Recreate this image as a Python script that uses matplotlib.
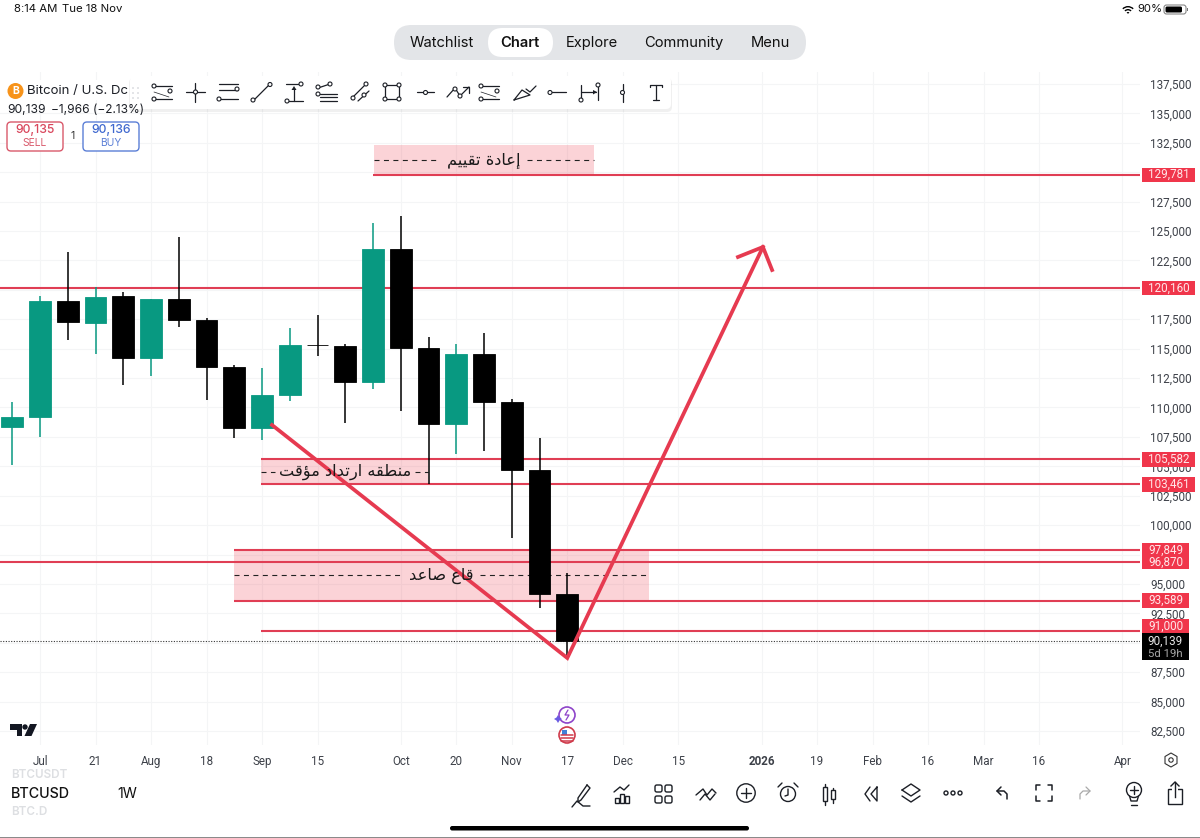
#!/usr/bin/env python3
# BTCUSD weekly chart screenshot, rebuilt with matplotlib
import matplotlib
matplotlib.use('Agg')
import matplotlib.pyplot as plt
from matplotlib.patches import Rectangle, FancyBboxPatch, Circle, Polygon, Wedge

plt.rcParams['font.family'] = ['Inter', 'DejaVu Sans']

# weekly candles
opens = [108340, 109190, 119050, 117180, 119475, 114205, 119220, 117435, 113440, 108255, 111060,
         115310, 115225, 112165, 123470, 115055, 108595, 114545, 110465, 104685, 94145]
closes = [109190, 119050, 117265, 119390, 114205, 119220, 117435, 113440, 108255, 111060, 115310,
          115290, 112165, 123470, 115055, 108595, 114545, 110465, 104685, 94145, 90139]
highs = [110465, 119475, 123215, 120240, 119815, 119220, 124490, 117605, 113610, 113355, 116755,
         117860, 115395, 125680, 126275, 115990, 115395, 116330, 110720, 107405, 95930]
lows = [105110, 107490, 115735, 114545, 111910, 112675, 116840, 110635, 107405, 107235, 110550,
        114375, 108680, 111570, 109700, 103495, 106045, 106300, 98905, 92955, 88790]

x_ticks = [1, 3, 5, 7, 9, 11, 14, 16, 18, 20, 22, 24, 27, 29, 31, 33, 35, 37, 40]
x_labels = ['Jul', '21', 'Aug', '18', 'Sep', '15', 'Oct', '20', 'Nov', '17', 'Dec', '15',
            '2026', '19', 'Feb', '16', 'Mar', '16', 'Apr']
y_ticks = list(range(82500, 137501, 2500))
y_hidden = [130000, 120000, 97500, 90000]  # sit right under a price label

# drawn levels: price, first week of the line, price shown on the label
levels = [129781, 120160, 105582, 103461, 97849, 96870, 93589, 91000]
level_start = [12.99, -1, 8.97, 8.97, 7.99, -1, 7.99, 8.97]
label_at = [129781, 120160, 105582, 103461, 97849, 96870, 93589, 91425]
label_wide = [True, True, True, True, False, False, False, False]
last_price = 90139

# shaded zones
zone_left = [13.03, 8.97, 7.99]
zone_right = [20.96, 14.98, 22.95]
zone_top = [132310, 105582, 97849]
zone_bottom = [129781, 103461, 93589]
gap_left = [15.41, 9.47, 14.04]
gap_right = [18.55, 14.51, 16.85]
zone_text = ['إعادة تقييم', 'منطقه ارتداد مؤقت', 'قاع صاعد']

# hand drawn arrow
path_x = [9.36, 20.0, 27.05]
path_y = [108510, 88705, 123640]
head_x = [26.15, 27.05, 27.38]
head_y = [122790, 123640, 121685]

GREEN = '#089981'
RED = '#e03e54'
LABEL_RED = '#f0364b'
GRID = '#f4f5f6'
SCALE_FONT = 'Roboto'

# matplotlib has no arabic shaping, so pick the joined glyph forms here
FORMS = {'ا': (0xFE8D, 0xFE8E), 'إ': (0xFE87, 0xFE88), 'د': (0xFEA9, 0xFEAA), 'ر': (0xFEAD, 0xFEAE),
         'ؤ': (0xFE85, 0xFE86), 'ة': (0xFE93, 0xFE94),
         'ت': (0xFE95, 0xFE96, 0xFE97, 0xFE98), 'ق': (0xFED5, 0xFED6, 0xFED7, 0xFED8),
         'ي': (0xFEF1, 0xFEF2, 0xFEF3, 0xFEF4), 'م': (0xFEE1, 0xFEE2, 0xFEE3, 0xFEE4),
         'ن': (0xFEE5, 0xFEE6, 0xFEE7, 0xFEE8), 'ط': (0xFEC1, 0xFEC2, 0xFEC3, 0xFEC4),
         'ه': (0xFEE9, 0xFEEA, 0xFEEB, 0xFEEC), 'ع': (0xFEC9, 0xFECA, 0xFECB, 0xFECC),
         'ص': (0xFEB9, 0xFEBA, 0xFEBB, 0xFEBC)}


def shape(text):
    out = []
    for i, c in enumerate(text):
        if c == ' ':
            out.append(c)
            continue
        prev = text[i - 1] if i > 0 else ' '
        nxt = text[i + 1] if i + 1 < len(text) else ' '
        join_prev = prev != ' ' and len(FORMS[prev]) == 4
        join_next = nxt != ' ' and len(FORMS[c]) == 4
        f = FORMS[c]
        if join_prev and join_next:
            g = f[3]
        elif join_prev:
            g = f[1]
        elif join_next:
            g = f[2]
        else:
            g = f[0]
        out.append(chr(g))
    return ''.join(out[::-1])


fig = plt.figure(figsize=(12, 8.38), dpi=100)

# chart axes, 1140 px wide, from y=72 to y=745 px
ax = fig.add_axes([0, (838 - 745) / 838, 1140 / 1200, (745 - 72) / 838])
ax.set_xlim((0 - 12.3) / 27.75, (1140 - 12.3) / 27.75)
ax.set_ylim(82500 + (731 - 745) * 85, 82500 + (731 - 72) * 85)
for s in ax.spines.values():
    s.set_visible(False)
ax.set_axisbelow(True)
ax.grid(True, color=GRID, lw=0.8)
ax.set_xticks(x_ticks)
ax.set_xticklabels(x_labels)
ax.set_yticks(y_ticks)
ax.set_yticklabels(['' if v in y_hidden else f'{v:,}' for v in y_ticks])
ax.yaxis.tick_right()
ax.tick_params(axis='both', length=0, labelsize=8.4, labelcolor='#3d4149', labelfontfamily=SCALE_FONT)
ax.tick_params(axis='x', pad=7.4)
ax.tick_params(axis='y', pad=7.2)
ax.get_xticklabels()[x_labels.index('2026')].set_fontweight('bold')

# zones
for i in range(3):
    ax.add_patch(Rectangle((zone_left[i], zone_bottom[i]), zone_right[i] - zone_left[i],
                           zone_top[i] - zone_bottom[i], fc='#ee3a4c', alpha=0.22, lw=0, zorder=1))
    mid = (zone_top[i] + zone_bottom[i]) / 2
    for a, b in [(zone_left[i], gap_left[i]), (gap_right[i], zone_right[i])]:
        ax.plot([a, b], [mid, mid], color='#222222', lw=0.8, dashes=(4.5, 4), zorder=2)
    ax.text((gap_left[i] + gap_right[i]) / 2, mid, shape(zone_text[i]), family='DejaVu Sans',
            fontsize=11.7, color='#1a1a1a', ha='center', va='center', zorder=6)

# levels
xmax = ax.get_xlim()[1]
for v, start in zip(levels, level_start):
    ax.plot([start, xmax], [v, v], color=RED, lw=1.5, zorder=2, solid_capstyle='butt')
ax.axhline(last_price, color='#333333', lw=0.8, dashes=(1, 1.4), zorder=2)

# candles
for i in range(len(opens)):
    color = GREEN if closes[i] >= opens[i] else 'black'
    ax.vlines(i, lows[i], highs[i], color=color, lw=1.1, zorder=3)
    body = max(abs(closes[i] - opens[i]), 20)
    ax.bar(i, body, bottom=min(opens[i], closes[i]), width=0.78, color=color,
           edgecolor=color, lw=0.6, zorder=4)

# arrow
ax.plot(path_x, path_y, color='#e63a50', lw=2.7, zorder=5, solid_joinstyle='miter')
ax.plot(head_x, head_y, color='#e63a50', lw=2.7, zorder=5, solid_joinstyle='miter')

# price labels on the scale
ytr = ax.get_yaxis_transform()
for v, at, wide in zip(levels, label_at, label_wide):
    w = (53 if wide else 47) / 1140
    ax.add_patch(Rectangle((1142 / 1140, at - 610), w, 1220, fc=LABEL_RED, lw=0,
                           transform=ytr, clip_on=False, zorder=7))
    ax.text(1142 / 1140 + w / 2, at, f'{v:,}', color='#ffe6e8', fontsize=8.4, ha='center',
            va='center', transform=ytr, clip_on=False, zorder=8, family=SCALE_FONT)
ax.add_patch(Rectangle((1142 / 1140, 88535), 47 / 1140, 2295, fc='black', lw=0,
                       transform=ytr, clip_on=False, zorder=7))
ax.text(1165.5 / 1140, 90139, f'{last_price:,}', color='#e8e8e8', fontsize=8.4, ha='center',
        va='center', transform=ytr, clip_on=False, zorder=8, family=SCALE_FONT)
ax.text(1165.5 / 1140, 89080, '5d 19h', color='#a8a8a8', fontsize=8.2, ha='center',
        va='center', transform=ytr, clip_on=False, zorder=8, family=SCALE_FONT)

# screen furniture on a pixel overlay
ui = fig.add_axes([0, 0, 1, 1], zorder=10)
ui.set_xlim(0, 1200)
ui.set_ylim(838, 0)
ui.axis('off')
ui.patch.set_alpha(0)


def ln(xs, ys, c='#1c1f26', lw=0.9):
    ui.plot(xs, ys, color=c, lw=lw, solid_capstyle='round', solid_joinstyle='round')


def dot(x, y, r=2.0, c='#1c1f26', fc='white', lw=0.8):
    ui.add_patch(Circle((x, y), r, fc=fc, ec=c, lw=lw, zorder=4))


def box(x0, y0, x1, y1, r, **kw):
    ui.add_patch(FancyBboxPatch((x0 + r, y0 + r), x1 - x0 - 2 * r, y1 - y0 - 2 * r,
                                boxstyle=f'round,pad={r},rounding_size={r}', **kw))


def label(x, y, s, size=10.5, c='#111111', ha='left', **kw):
    ui.text(x, y, s, fontsize=size, color=c, ha=ha, va='center', **kw)


# status bar
label(14, 9, '8:14 AM', 8.2)
label(62, 9, 'Tue 18 Nov', 8.2)
label(1137, 9, '90%', 8.2)
for r in (2, 5, 8):
    ui.add_patch(Wedge((1128, 14), r, 225, 315, width=1.4, fc='black', lw=0))
box(1164, 5, 1186, 14, 2.5, fc='none', ec='#777777', lw=0.7)
box(1165.5, 6.5, 1182, 12.5, 1.5, fc='black', lw=0)
ui.add_patch(Rectangle((1186.5, 8), 1.4, 3.5, fc='#777777', lw=0))

# top tabs
box(394, 25, 806, 60, 17.5, fc='#e3e5e8', lw=0)
box(488, 28, 553, 57, 14.5, fc='white', lw=0)
for x, s, w in [(442, 'Watchlist', 'normal'), (520, 'Chart', 'bold'), (592, 'Explore', 'normal'),
                (684, 'Community', 'normal'), (770, 'Menu', 'normal')]:
    label(x, 43, s, 10.6, '#111111', ha='center', fontweight='semibold' if w == 'bold' else 'normal')

# symbol header
ui.add_patch(Rectangle((0, 80), 130, 20, fc='white', lw=0))
ui.add_patch(Circle((15.5, 91), 8, fc='#f7931a', lw=0))
label(15.5, 91, 'B', 7.5, 'white', ha='center', fontweight='bold')
label(27, 91, 'Bitcoin / U.S. Dc', 9.5, '#1c1f26')
label(7, 110, '90,139', 8.7, '#1c1f26')
label(51, 110, '−1,966 (−2.13%)', 8.6, '#1c1f26')
box(7, 122, 63, 151, 4, fc='white', ec='#d9596b', lw=1)
box(83, 122, 139, 151, 4, fc='white', ec='#5b7fd6', lw=1)
label(35, 130, '90,135', 8.8, '#d9465c', ha='center', fontweight='medium')
label(35, 143, 'SELL', 7.4, '#d9596b', ha='center')
label(111, 130, '90,136', 8.8, '#3f68cf', ha='center', fontweight='medium')
label(111, 143, 'BUY', 7.4, '#5b7fd6', ha='center')
label(73, 136, '1', 7.6, '#333333', ha='center')

# drawing toolbar
box(129, 78, 672, 112, 5, fc='#000000', alpha=0.06, lw=0)
box(130, 76, 671, 109, 5, fc='white', lw=0)
for x in (133, 138):
    for y in (88, 93, 98):
        ui.add_patch(Circle((x, y), 0.9, fc='#d5d7db', lw=0))
for x in (154, 481):  # same fib style icon twice
    ln([x, x + 18], [86, 86])
    ln([x, x + 18], [99, 99])
    ln([x, x + 15], [92, 97], lw=0.5)
    dot(x, 86); dot(x + 16, 91); dot(x, 99)
ln([186, 205], [92, 92]); ln([195, 195], [83, 102]); dot(195.5, 92)
ln([219, 238], [84, 84]); ln([219, 238], [90, 90]); ln([219, 238], [99, 99]); dot(237, 89); dot(219, 99)
ln([254, 269], [100, 85]); dot(253, 100); dot(270, 84.5)
ln([286, 300], [84, 84]); ln([288, 303], [101, 101]); ln([294, 294], [88, 101]); dot(301, 84); dot(287, 101)
ui.add_patch(Polygon([[291.5, 90], [296.5, 90], [294, 86]], fc='#1c1f26', lw=0))
ln([318, 330], [88, 84]); dot(318, 87); dot(318, 94); dot(330, 84)
for y in (94, 97.5, 101):
    ln([320, 337], [y, y])
ln([353, 366], [97, 84]); ln([358, 369], [101, 91]); dot(353, 98); dot(366, 84); dot(364, 95)
ui.add_patch(Rectangle((385, 85), 14, 14, fc='none', ec='#1c1f26', lw=0.9))
for p in [(385, 85), (399, 85), (385, 99), (399, 99)]:
    dot(*p)
ln([417, 434], [92.5, 92.5]); dot(425.5, 92.5)
ln([447, 455, 460, 469], [97, 88, 96, 87]); ln([463, 469, 469], [87, 87, 93]); dot(455, 89); dot(460, 96)
ln([514, 522, 530, 514, 514], [100, 90, 95, 100, 100]); ln([526, 530, 536], [89, 92, 86])
ln([552, 566], [92.5, 92.5]); dot(550, 92.5)
ln([581, 581], [85, 100]); ln([581, 596], [92, 92]); ln([598, 598], [85, 100]); dot(581, 100); dot(598, 85)
ui.add_patch(Polygon([[593, 90], [593, 94.5], [597, 92]], fc='#1c1f26', lw=0))
ln([622.5, 622.5], [84, 102]); dot(622.5, 92.5)
ln([650, 650, 662, 662], [87, 85, 85, 87]); ln([656, 656], [85, 100]); ln([653, 659], [100, 100])

# tradingview logo
ui.add_patch(Polygon([[10, 724], [22, 724], [22, 736], [17, 736], [17, 729.5], [10, 729.5]], fc='#131722', lw=0))
ui.add_patch(Circle((25, 727), 2.7, fc='#131722', lw=0))
ui.add_patch(Polygon([[30, 724], [37, 724], [31.5, 736], [24.5, 736]], fc='#131722', lw=0))

# event badges under the last candle
ui.add_patch(Circle((567, 715), 8, fc='white', ec='#8e44c9', lw=1.2))
ln([568, 565, 569, 566], [710, 715, 715, 720], c='#8e44c9', lw=0.9)
ui.add_patch(Polygon([[558, 715], [556.5, 717.5], [554, 719], [556.5, 720.5], [558, 723], [559.5, 720.5], [562, 719], [559.5, 717.5]],
                     fc='#6a5be2', lw=0))
ui.add_patch(Circle((567, 735), 8, fc='white', ec='#cf3b4b', lw=1.2))
for y in (735, 738, 741):
    ln([561, 573], [y, y], c='#cf3b4b', lw=1.1)
ui.add_patch(Rectangle((562, 730), 5, 4.5, fc='#3f7fd6', lw=0))

# settings hexagon next to the time scale
ui.add_patch(Polygon([[1171, 753], [1177, 756.5], [1177, 763.5], [1171, 767], [1165, 763.5], [1165, 756.5]],
                     fc='white', ec='#333333', lw=0.8))
dot(1171, 760, 2.2, '#333333')

# bottom bar
label(11, 775, 'BTCUSDT', 8.4, '#dddfe2', fontweight='semibold')
label(11, 794, 'BTCUSD', 10.3, '#111111', fontweight='medium')
label(11, 812, 'BTC.D', 8.4, '#dddfe2', fontweight='semibold')
label(117, 794, '1W', 10.3, '#111111')

# pen
ln([587, 590, 581, 578, 578, 587], [785, 788, 800, 802, 798, 785], lw=1)
ln([572, 577, 583, 590], [807, 801, 806, 806], lw=1)
# indicators
ln([614, 620, 624, 629], [792, 787, 790, 785], lw=1)
for x, h in [(615, 5), (620, 9), (625, 7)]:
    ui.add_patch(Rectangle((x, 803 - h), 4, h, fc='none', ec='#1c1f26', lw=1))
# layouts
for x in (655, 665):
    for y in (785, 796):
        box(x, y, x + 7, y + 7, 1.8, fc='none', ec='#1c1f26', lw=1)
# trend icon
ln([696, 703, 707, 712, 716], [795, 789, 795, 789, 793], lw=1)
ln([700, 705, 710, 715], [800, 794, 800, 794], lw=1)
# plus
ui.add_patch(Circle((746, 793), 9.2, fc='none', ec='#1c1f26', lw=1))
ln([741, 751], [793, 793], lw=1); ln([746, 746], [788, 798], lw=1)
# alarm
ui.add_patch(Circle((788, 794), 7.5, fc='none', ec='#1c1f26', lw=1))
ln([788, 788, 785], [789, 795, 796], lw=1); ln([778, 782], [787, 783], lw=1); ln([794, 798], [783, 787], lw=1)
# candles
for x, y0, y1, y2, y3 in [(825, 784, 787, 801, 805), (833, 788, 790, 799, 803)]:
    ln([x, x], [y0, y3], lw=1)
    ui.add_patch(Rectangle((x - 2, y1), 4, y2 - y1, fc='white', ec='#1c1f26', lw=1, zorder=4))
# rewind
ln([870, 865, 870], [787, 794, 801], lw=1)
ln([877, 871, 877, 877], [787, 794, 801, 787], lw=1)
# layers
ln([902, 911, 920, 911, 902], [790, 784, 790, 796, 790], lw=1)
ln([902, 911, 920], [796, 802, 796], lw=1)
# more
for x in (946, 953, 960):
    dot(x, 793, 2, fc='none', lw=1)
# undo, fullscreen, redo
ln([1001, 997, 1001], [787, 791, 795], lw=1.1); ln([997, 1004, 1007, 1007], [791, 791, 794, 799], lw=1.1)
for sx, sy in [(1, 1), (-1, 1), (1, -1), (-1, -1)]:
    cx, cy = 1044 + sx * 8, 793 + sy * 8
    ln([cx - sx * 4, cx, cx], [cy, cy, cy - sy * 5], lw=1.1)
ln([1086, 1090, 1086], [787, 791, 795], c='#aaaaaa', lw=0.9); ln([1090, 1083, 1080, 1080], [791, 791, 794, 799], c='#aaaaaa', lw=0.9)
# bulb
ui.add_patch(Circle((1134, 790), 7.5, fc='none', ec='#1c1f26', lw=1))
ln([1130, 1138], [790, 790], lw=1); ln([1134, 1134], [786, 794], lw=1)
ln([1129.5, 1131, 1137, 1138.5], [796, 801, 801, 796], lw=1); ln([1131, 1137], [805, 805], lw=1)
# share
ui.add_patch(Rectangle((1168, 789), 14, 15, fc='none', ec='#1c1f26', lw=1))
ui.add_patch(Rectangle((1172, 786), 6, 6, fc='white', lw=0, zorder=3))
ui.plot([1175, 1175], [782, 797], color='#1c1f26', lw=1, zorder=4)
ui.plot([1171, 1175, 1179], [786, 782, 786], color='#1c1f26', lw=1, zorder=4)

# home indicator and bottom edge
box(450, 826, 749, 830.5, 2.2, fc='black', lw=0)
ui.add_patch(Rectangle((0, 836.5), 1200, 1.5, fc='#8a8a8a', lw=0))

fig.savefig('out.png', dpi=100)
